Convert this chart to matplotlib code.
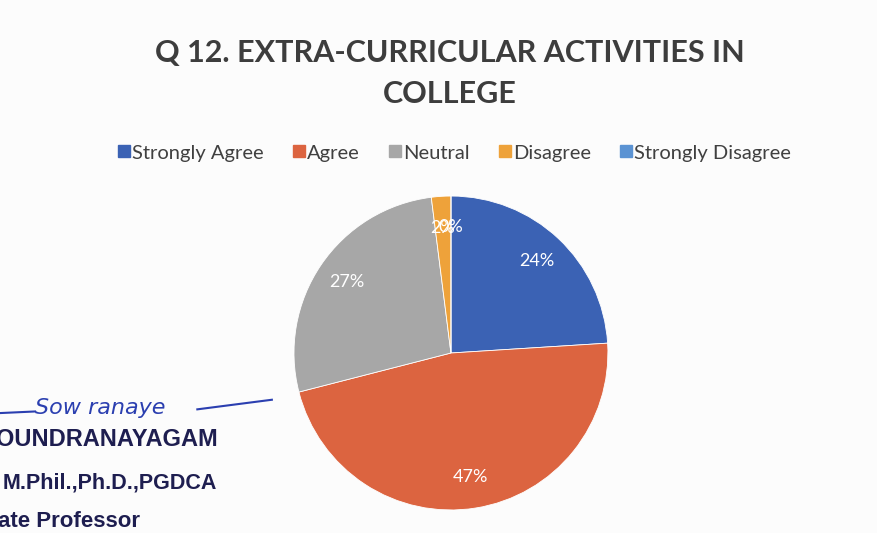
import matplotlib
matplotlib.use('Agg')
from matplotlib import pyplot as plt
from matplotlib.lines import Line2D

categories = ['Strongly Agree', 'Agree', 'Neutral', 'Disagree', 'Strongly Disagree']
shares = [24, 47, 27, 2, 0]
colors = ['#3b62b4', '#dc6440', '#a7a7a7', '#eea23a', '#5b93d3']
title = 'Q 12. EXTRA-CURRICULAR ACTIVITIES IN\nCOLLEGE'

font = ['Lato', 'DejaVu Sans']
stamp_font = ['Liberation Sans Narrow', 'Liberation Sans', 'DejaVu Sans']

fig = plt.figure(figsize=(8.77, 5.33), dpi=100)
fig.set_facecolor('#fcfcfc')

ax = fig.add_axes([0.3352, 0.0432, 0.358, 0.589])
wedges, texts, autotexts = ax.pie(shares, colors=colors, startangle=90, counterclock=False,
                                  autopct='%d%%', pctdistance=0.8,
                                  wedgeprops={'edgecolor': 'white', 'linewidth': 0.6},
                                  textprops={'color': 'white', 'fontsize': 13, 'family': font})
ax.set_xlim(-1, 1)
ax.set_ylim(-1, 1)
ax.set_aspect('equal')

fig.text(0.513, 0.862, title, ha='center', va='center', fontsize=22, fontweight='bold',
         color='#3d3d3d', family=font, linespacing=1.55)

handles = [Line2D([], [], marker='s', linestyle='', markersize=9, color=c) for c in colors]
fig.legend(handles, categories, loc='center', bbox_to_anchor=(0.518, 0.713), ncol=5,
           frameon=False, handletextpad=0.05, columnspacing=1.4, handlelength=0.7,
           prop={'family': font, 'size': 14.5}, labelcolor='#404040')

# signature and stamp from the scanned page
ink = '#2b3fb0'
fig.add_artist(Line2D([0.0, 0.04], [0.225, 0.228], color=ink, lw=1.5))
fig.text(0.04, 0.235, 'Sow ranaye', fontsize=16, color=ink, style='italic',
         family=['DejaVu Sans'], va='center')
fig.add_artist(Line2D([0.225, 0.31], [0.232, 0.25], color=ink, lw=1.5))

navy = '#1e1e50'
fig.text(-0.004, 0.175, 'OUNDRANAYAGAM', fontsize=17, fontweight='bold', color=navy,
         family=stamp_font, va='center')
fig.text(0.003, 0.094, 'M.Phil.,Ph.D.,PGDCA', fontsize=15.5, fontweight='bold', color=navy,
         family=stamp_font, va='center')
fig.text(-0.002, 0.022, 'ate Professor', fontsize=16, fontweight='bold', color=navy,
         family=stamp_font, va='center')

fig.savefig('out.png', dpi=100, facecolor=fig.get_facecolor())
